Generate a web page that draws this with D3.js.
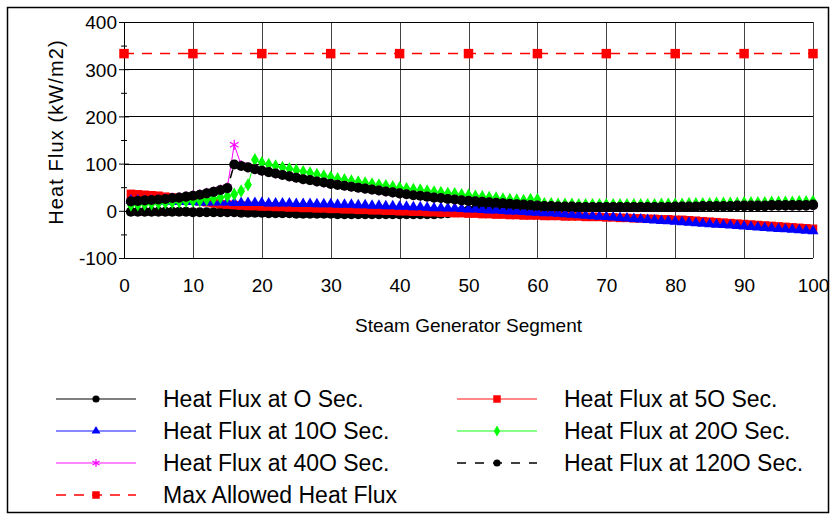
<!DOCTYPE html>
<html>
<head>
<meta charset="utf-8">
<script src="https://cdn.jsdelivr.net/npm/d3@7"></script>
<style>
    body { margin: 0; background: #fff; }
    text { font-family: "Liberation Sans", Arial, sans-serif; fill: #000; }
</style>
</head>
<body>
<svg id="chart"></svg>
<script>
// Data (segment 1..100)
const segments = d3.range(1, 101);

const flux0 = [
    -2, -2, -2, -2, -2, -2, -2, -2, -2, -3, -3, -3, -3, -3, -3,
    -3, -4, -4, -4, -4, -5, -5, -5, -5, -6, -6, -6, -6, -6, -6,
    -7, -7, -7, -7, -7, -7, -7, -7, -7, -7, -7, -7, -7, -7, -7,
    -6, -5, -3, -1, 1, 3, 5, 6, 7, 7, 8, 8, 8, 8, 8,
    8, 8, 8, 8, 8, 8, 8, 8, 8, 8, 8, 8, 8, 8, 8,
    8, 8, 8, 8, 8, 8, 8, 8, 9, 9, 9, 9, 9, 10, 10,
    10, 10, 10, 11, 11, 11, 11, 11, 11, 12
];

const flux50 = [
    36, 35, 34, 33, 32, 30, 28, 26, 24, 22, 20, 18, 16, 14, 13,
    12, 11, 10, 10, 9, 9, 8, 8, 7, 7, 6, 6, 5, 5, 4,
    4, 3, 3, 2, 2, 1, 1, 0, 0, -1, -1, -2, -2, -3, -3,
    -4, -4, -5, -5, -6, -6, -7, -7, -8, -8, -9, -9, -10, -10, -10,
    -11, -11, -11, -12, -12, -12, -13, -13, -13, -14, -14, -15, -15, -16, -16,
    -17, -17, -18, -18, -19, -19, -20, -21, -22, -23, -24, -25, -26, -27, -28,
    -29, -30, -31, -32, -33, -34, -35, -36, -37, -38
];

const flux100 = [
    22, 22, 21, 21, 20, 20, 20, 19, 19, 19, 18, 18, 18, 18, 18,
    17, 17, 17, 17, 17, 16, 16, 16, 16, 15, 15, 15, 14, 14, 14,
    13, 13, 13, 12, 12, 11, 11, 10, 10, 9, 9, 8, 8, 7, 6,
    6, 5, 5, 4, 3, 3, 2, 1, 1, 0, -1, -1, -2, -3, -4,
    -5, -5, -6, -7, -8, -9, -10, -11, -12, -13, -14, -15, -16, -17, -18,
    -19, -20, -21, -22, -23, -24, -25, -26, -27, -28, -29, -30, -31, -32, -33,
    -34, -35, -36, -37, -38, -39, -40, -41, -42, -43
];

const flux200 = [
    12, 13, 14, 15, 16, 17, 18, 19, 20, 21, 22, 24, 26, 28, 31,
    35, 42, 55, 108, 102, 98, 95, 92, 89, 86, 83, 80, 77, 74, 71,
    68, 66, 63, 61, 59, 57, 55, 53, 51, 49, 47, 45, 44, 42, 40,
    39, 37, 36, 34, 33, 31, 30, 28, 27, 25, 24, 23, 22, 24, 24,
    15, 15, 14, 14, 14, 13, 13, 13, 13, 13, 13, 13, 13, 13, 13,
    13, 13, 14, 14, 14, 14, 15, 15, 15, 15, 16, 16, 16, 16, 17,
    17, 17, 17, 18, 18, 18, 18, 19, 19, 20
];

const flux400 = [
    21, 22, 23, 24, 25, 26, 28, 29, 31, 33, 35, 38, 41, 45, 50,
    140, 97, 92, 88, 85, 82, 79, 76, 73, 70, 67, 65, 62, 60, 57,
    55, 53, 51, 49, 47, 45, 43, 41, 39, 37, 35, 33, 32, 30, 28,
    27, 25, 24, 22, 21, 20, 19, 18, 17, 16, 15, 14, 13, 12, 11,
    10, 10, 9, 9, 9, 8, 8, 8, 8, 8, 8, 8, 8, 8, 8,
    8, 8, 8, 8, 9, 9, 9, 9, 10, 10, 10, 10, 10, 11, 11,
    11, 11, 11, 12, 12, 12, 12, 12, 12, 13
];

const flux1200 = [
    20, 21, 22, 23, 24, 25, 27, 28, 30, 32, 34, 37, 40, 44, 48,
    98, 95, 92, 88, 85, 82, 79, 76, 73, 70, 67, 65, 62, 60, 57,
    55, 53, 51, 49, 47, 45, 43, 41, 39, 37, 35, 33, 32, 30, 28,
    27, 25, 24, 22, 21, 20, 19, 18, 17, 16, 15, 14, 13, 12, 11,
    10, 10, 9, 9, 9, 8, 8, 8, 8, 8, 8, 8, 8, 8, 8,
    8, 8, 8, 8, 9, 9, 9, 9, 10, 10, 10, 10, 10, 11, 11,
    11, 11, 11, 12, 12, 12, 12, 12, 12, 13
];

const maxSegments = [0, 10, 20, 30, 40, 50, 60, 70, 80, 90, 100];
const maxAllowed = [333, 333, 333, 333, 333, 333, 333, 333, 333, 333, 333];

const xTicks = [0, 10, 20, 30, 40, 50, 60, 70, 80, 90, 100];
const yTicks = [-100, 0, 100, 200, 300, 400];
const yMinorTicks = [-50, 50, 150, 250, 350];

const seriesNames = [
    "Heat Flux at O Sec.", "Heat Flux at 5O Sec.", "Heat Flux at 10O Sec.",
    "Heat Flux at 20O Sec.", "Heat Flux at 40O Sec.", "Heat Flux at 120O Sec.",
    "Max Allowed Heat Flux"
];

// Layout
let config = { svg: {}, plot: {} };
config.svg.width = 840;
config.svg.height = 516;
config.plot.x = 124;
config.plot.y = 22;
config.plot.width = 689;
config.plot.height = 236;

function translate(x, y) {
    return 'translate(' + x + ',' + y + ')';
}

// plain hyphen minus, like the original
function tickText(d) {
    return String(d);
}

let svg = d3.select("#chart")
    .attr("width", config.svg.width)
    .attr("height", config.svg.height);

// outer frame
svg.append("rect")
    .attr("x", 7.5).attr("y", 7.5)
    .attr("width", 821).attr("height", 505)
    .attr("fill", "#fff")
    .attr("stroke", "#000")
    .attr("stroke-width", 1.5);

let scales = {};
scales.x = d3.scaleLinear().domain([0, 100]).range([0, config.plot.width]);
scales.y = d3.scaleLinear().domain([-100, 400]).range([config.plot.height, 0]);

let plot = svg.append("g").attr("transform", translate(config.plot.x, config.plot.y));

// gridlines
let vgrid = plot.append("g")
    .attr("class", "gridlines")
    .attr("transform", translate(0, config.plot.height))
    .call(d3.axisBottom(scales.x).tickValues(xTicks).tickSize(-config.plot.height).tickFormat(""));
vgrid.select(".domain").remove();
vgrid.selectAll("line").attr("stroke", "#444").attr("shape-rendering", "crispEdges");

let hgrid = plot.append("g")
    .attr("class", "gridlines")
    .call(d3.axisLeft(scales.y).tickValues(yTicks).tickSize(-config.plot.width).tickFormat(""));
hgrid.select(".domain").remove();
hgrid.selectAll("line").attr("stroke", "#000").attr("shape-rendering", "crispEdges");

// y axis
let yAxis = plot.append("g")
    .call(d3.axisLeft(scales.y).tickValues(yTicks).tickSize(5).tickPadding(2).tickSizeOuter(0).tickFormat(tickText));
yAxis.select(".domain").attr("stroke", "#000").attr("shape-rendering", "crispEdges");
yAxis.selectAll("text")
    .style("font-size", "19px")
    .attr("dy", "0.36em");
plot.append("g")
    .call(d3.axisLeft(scales.y).tickValues(yTicks).tickSize(-5).tickFormat("").tickSizeOuter(0))
    .select(".domain").remove();
let yMinor = plot.append("g")
    .call(d3.axisLeft(scales.y).tickValues(yMinorTicks).tickSize(3).tickFormat("").tickSizeOuter(0));
yMinor.select(".domain").remove();
plot.append("g")
    .call(d3.axisLeft(scales.y).tickValues(yMinorTicks).tickSize(-3).tickFormat("").tickSizeOuter(0))
    .select(".domain").remove();

// x axis labels
let xAxis = plot.append("g")
    .attr("transform", translate(0, config.plot.height))
    .call(d3.axisBottom(scales.x).tickValues(xTicks).tickSize(0).tickPadding(21).tickFormat(tickText));
xAxis.select(".domain").remove();
xAxis.selectAll("text").style("font-size", "19px");

// axis titles
svg.append("text")
    .attr("x", config.plot.x + config.plot.width / 2)
    .attr("y", 332)
    .attr("text-anchor", "middle")
    .style("font-size", "19px")
    .text("Steam Generator Segment");

svg.append("text")
    .attr("transform", translate(63, 132) + " rotate(-90)")
    .attr("text-anchor", "middle")
    .style("font-size", "20px")
    .style("letter-spacing", "1.1px")
    .text("Heat Flux (kW/m2)");

// series definitions
let series = [
    { values: flux0, xs: segments, color: "#000", legendLine: "#555", dash: null, symbol: d3.symbolCircle, size: 80, legendSize: 40, stroke: false },
    { values: flux50, xs: segments, color: "#ff0000", legendLine: "#ff6060", dash: null, symbol: d3.symbolSquare, size: 72, legendSize: 56, stroke: false },
    { values: flux100, xs: segments, color: "#0000ff", legendLine: "#6060ff", dash: null, symbol: d3.symbolTriangle, size: 52, legendSize: 34, stroke: false },
    { values: flux200, xs: segments, color: "#00ff00", legendLine: "#60ff60", dash: null, symbol: d3.symbolDiamond, size: 52, legendSize: 34, stroke: false },
    { values: flux400, xs: segments, color: "#ff00ff", legendLine: "#ff60ff", dash: null, symbol: d3.symbolAsterisk, size: 70, legendSize: 45, stroke: true },
    { values: flux1200, xs: segments, color: "#000", legendLine: "#000", dash: "9,9", symbol: d3.symbolCircle, size: 80, legendSize: 40, stroke: false },
    { values: maxAllowed, xs: maxSegments, color: "#ff0000", legendLine: "#ff0000", dash: "10,8", symbol: d3.symbolSquare, size: 90, legendSize: 56, stroke: false }
];

let line = d3.line()
    .x(d => scales.x(d[0]))
    .y(d => scales.y(d[1]));

let marks = plot.append("g").attr("id", "series");
series.forEach(function(s, i) {
    let pts = s.xs.map((x, j) => [x, s.values[j]]);
    let g = marks.append("g");
    g.append("path")
        .datum(pts)
        .attr("d", line)
        .attr("fill", "none")
        .attr("stroke", s.color)
        .attr("stroke-width", s.dash ? 1.5 : 1)
        .attr("stroke-dasharray", s.dash);
    g.selectAll("path.marker")
        .data(pts)
        .enter()
        .append("path")
        .attr("class", "marker")
        .attr("transform", d => translate(scales.x(d[0]), scales.y(d[1])))
        .attr("d", d3.symbol(s.symbol, s.size))
        .attr("fill", s.stroke ? "none" : s.color)
        .attr("stroke", s.stroke ? s.color : "none")
        .attr("stroke-width", 1.2);
});

// legend
let legendOrder = [0, 2, 4, 6, 1, 3, 5];
let legend = svg.append("g").attr("id", "legend");
legendOrder.forEach(function(idx, k) {
    let s = series[idx];
    let col = k < 4 ? 0 : 1;
    let row = k < 4 ? k : k - 4;
    let lx = col === 0 ? 56 : 457;
    let ly = 399 + row * 32;
    let item = legend.append("g").attr("transform", translate(lx, ly));
    item.append("line")
        .attr("x1", 0).attr("x2", 80)
        .attr("y1", 0).attr("y2", 0)
        .attr("stroke", s.legendLine)
        .attr("stroke-width", 1.5)
        .attr("stroke-dasharray", s.dash);
    item.append("path")
        .attr("transform", translate(40, 0))
        .attr("d", d3.symbol(s.symbol, s.legendSize))
        .attr("fill", s.stroke ? "none" : s.color)
        .attr("stroke", s.stroke ? s.color : "none")
        .attr("stroke-width", 1.2);
    item.append("text")
        .attr("x", 107)
        .attr("y", 0)
        .attr("dy", "0.36em")
        .style("font-size", "23px")
        .text(seriesNames[idx]);
});
</script>
</body>
</html>
